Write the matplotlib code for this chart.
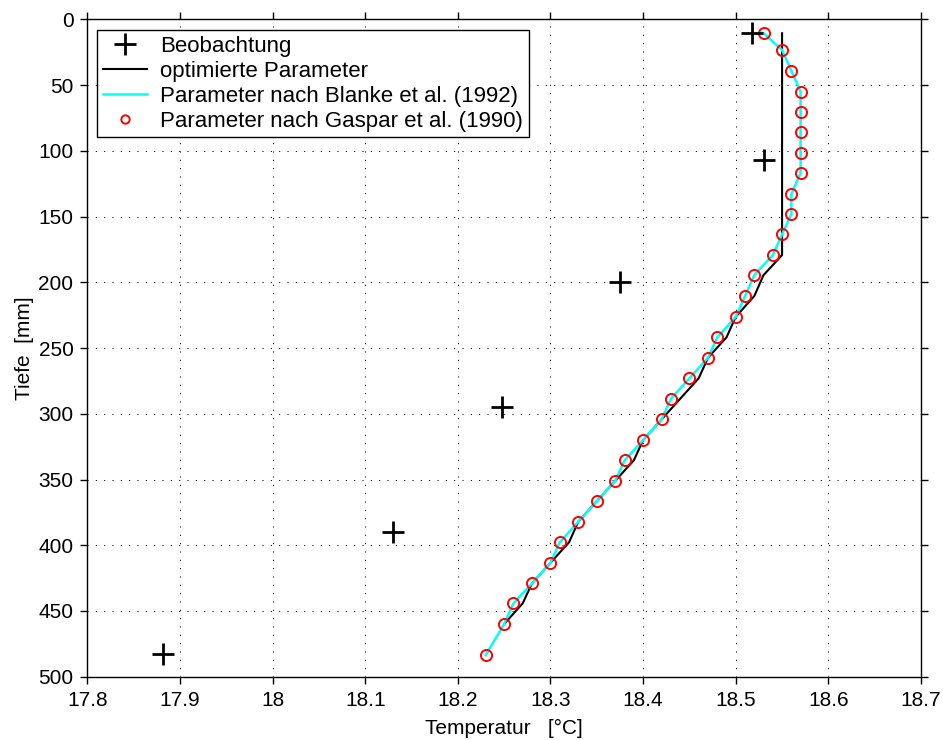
import matplotlib
matplotlib.use("Agg")
import matplotlib.pyplot as plt

plt.rcParams['font.family'] = ['Liberation Sans', 'DejaVu Sans']

# observations (+)
obs_temp = [18.518, 18.531, 18.375, 18.248, 18.130, 17.882]
obs_depth = [10.6, 107.0, 200.0, 295.2, 390.0, 483.0]

# model depth levels
model_depth = [10.6, 23.3, 39.1, 55.1, 70.7, 86.0, 101.4, 116.9, 132.9, 148.3,
               163.5, 179.3, 194.5, 210.5, 226.2, 241.9, 257.4, 273.0, 288.6, 304.2,
               320.0, 335.4, 350.9, 366.4, 382.1, 397.8, 413.3, 429.0, 444.2, 459.9,
               483.5]

# optimierte Parameter (black line, ends one level higher)
opt_depth = model_depth[:30]
opt_temp = [18.55, 18.55, 18.55, 18.55, 18.55, 18.55, 18.55, 18.55, 18.55, 18.55,
            18.55, 18.55, 18.53, 18.52, 18.50, 18.49, 18.47, 18.46, 18.44, 18.42,
            18.40, 18.39, 18.37, 18.35, 18.33, 18.32, 18.30, 18.28, 18.27, 18.25]

# Blanke et al. (1992) - cyan line
blanke_temp = [18.53, 18.55, 18.56, 18.57, 18.57, 18.57, 18.57, 18.57, 18.56, 18.56,
               18.55, 18.54, 18.52, 18.51, 18.50, 18.48, 18.47, 18.45, 18.43, 18.42,
               18.40, 18.38, 18.37, 18.35, 18.33, 18.31, 18.30, 18.28, 18.26, 18.25,
               18.23]

# Gaspar et al. (1990) - red circles
gaspar_temp = [18.53, 18.55, 18.56, 18.57, 18.57, 18.57, 18.57, 18.57, 18.56, 18.56,
               18.55, 18.54, 18.52, 18.51, 18.50, 18.48, 18.47, 18.45, 18.43, 18.42,
               18.40, 18.38, 18.37, 18.35, 18.33, 18.31, 18.30, 18.28, 18.26, 18.25,
               18.23]

x_ticks = [17.8, 17.9, 18.0, 18.1, 18.2, 18.3, 18.4, 18.5, 18.6, 18.7]
x_ticklabels = ['17.8', '17.9', '18', '18.1', '18.2', '18.3', '18.4', '18.5', '18.6', '18.7']
y_ticks = [0, 50, 100, 150, 200, 250, 300, 350, 400, 450, 500]

fig = plt.figure(figsize=(9.43, 7.40), dpi=100)
ax = fig.add_axes([0.0926, 0.0855, 0.8841, 0.8884])

ax.plot(obs_temp, obs_depth, 'k+', ms=15.5, mew=2, label='Beobachtung', zorder=5)
ax.plot(opt_temp, opt_depth, 'k-', lw=1.5, label='optimierte Parameter', zorder=3)
ax.plot(blanke_temp, model_depth, color='#00ffff', lw=1.8,
        label='Parameter nach Blanke et al. (1992)', zorder=3)
ax.plot(gaspar_temp, model_depth, 'o', mfc='none', mec='#ff0000', ms=8, mew=1.4,
        label='Parameter nach Gaspar et al. (1990)', zorder=4)

ax.set_xlim(17.8, 18.7)
ax.set_ylim(500, 0)
ax.set_xticks(x_ticks)
ax.set_xticklabels(x_ticklabels)
ax.set_yticks(y_ticks)

ax.tick_params(direction='out', length=5, width=1, top=True, right=True,
               labelsize=15, pad=5)
ax.grid(True, linestyle=(0, (1, 7)), lw=0.75, color='k')
ax.set_axisbelow(True)
for s in ax.spines.values():
    s.set_linewidth(1.0)

ax.set_xlabel('Temperatur   [°C]', fontsize=15, labelpad=7)
ax.set_ylabel('Tiefe  [mm]', fontsize=15, labelpad=3)

leg = ax.legend(loc='upper left', bbox_to_anchor=(0.0116, 0.9837), borderaxespad=0,
                fontsize=16, fancybox=False, edgecolor='k', framealpha=1,
                labelspacing=0.18, handlelength=2.0, handletextpad=0.6, borderpad=0.25)
leg.get_frame().set_linewidth(1.0)
leg.legend_handles[3].set_markersize(6)

plt.savefig('out.png', dpi=100)
